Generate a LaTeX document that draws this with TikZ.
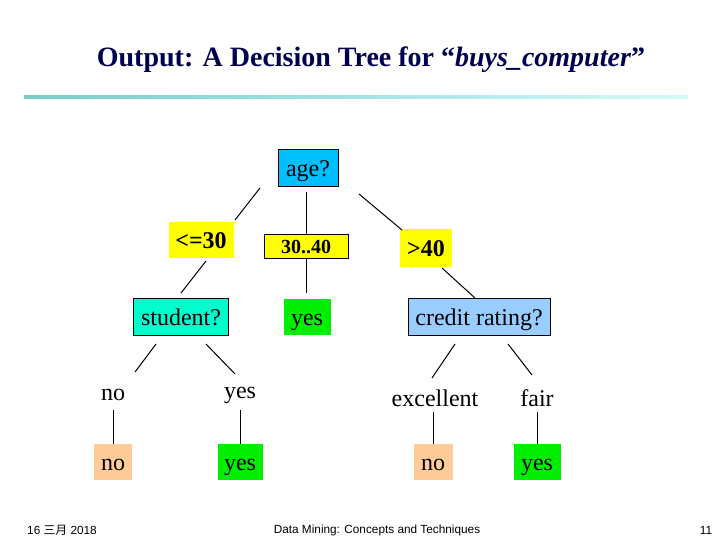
\documentclass[tikz,border=0pt]{standalone}
\usepackage{fontspec}
\setmainfont{Liberation Serif}
\setsansfont{Liberation Sans}
\newfontfamily\cjk{Noto Sans CJK SC}
\definecolor{agec}{RGB}{0,191,255}
\definecolor{yel}{RGB}{255,255,0}
\definecolor{stud}{RGB}{0,255,204}
\definecolor{grn}{RGB}{0,238,0}
\definecolor{cred}{RGB}{153,204,255}
\definecolor{org}{RGB}{255,204,153}
\definecolor{lineA}{RGB}{120,205,200}
\definecolor{lineB}{RGB}{210,250,250}
\definecolor{navy}{RGB}{0,0,80}
\begin{document}
\begin{tikzpicture}[x=1pt,y=-1pt,
  txt/.style={text height=18pt,text depth=1pt},
  box/.style={txt,draw=black,line width=0.6pt,inner sep=0pt,minimum height=37pt,font=\fontsize{24}{26}\selectfont},
  plain/.style={txt,inner sep=0pt,minimum height=36pt,font=\fontsize{24}{26}\selectfont},
  lbl/.style={inner sep=0pt,font=\fontsize{24}{26}\selectfont},
  edge/.style={line width=1pt}]
\useasboundingbox (0,0) rectangle (720,540);
\node[font=\bfseries\fontsize{28}{30}\selectfont,text=navy] (title) at (371,60) {Output: A Decision Tree for “\textit{buys\_computer}”};
\shade[left color=lineA,right color=lineB] (24,95.5) rectangle (688,99);
\node[box,fill=agec,minimum width=60pt] (age) at (308,168) {age?};
\node[plain,fill=yel,minimum width=65pt,minimum height=35pt,font=\bfseries\fontsize{24}{26}\selectfont] (le) at (201,240) {<=30};
\node[box,fill=yel,minimum width=84pt,minimum height=24pt,text height=15pt,text depth=0pt,font=\bfseries\fontsize{20}{22}\selectfont] (mid) at (306,246) {30..40};
\node[plain,fill=yel,minimum width=52pt,minimum height=37pt,font=\bfseries\fontsize{24}{26}\selectfont] (gt) at (426,248) {>40};
\node[box,fill=stud,minimum width=95pt] (st) at (181,317) {student?};
\node[plain,fill=grn,minimum width=47pt] (y1) at (307,317) {yes};
\node[box,fill=cred,minimum width=142pt] (cr) at (479,317) {credit rating?};
\node[lbl] (n1) at (113,395) {no};
\node[lbl] (y2) at (240,395) {yes};
\node[lbl] (ex) at (435,398) {excellent};
\node[lbl] (fa) at (537,398) {fair};
\node[plain,fill=org,minimum width=38pt] (ln1) at (113,462) {no};
\node[plain,fill=grn,minimum width=45pt] (ly1) at (240,462) {yes};
\node[plain,fill=org,minimum width=39pt] (ln2) at (433,462) {no};
\node[plain,fill=grn,minimum width=47pt] (ly2) at (537,462) {yes};
\coordinate (a1) at (260,188); \coordinate (a2) at (235,220);
\coordinate (b1) at (306,192); \coordinate (b2) at (306,234);
\coordinate (c1) at (359,194); \coordinate (c2) at (402,230);
\draw[edge] (a1)--(a2); \draw[edge] (b1)--(b2); \draw[edge] (c1)--(c2);
\coordinate (d1) at (206,261); \coordinate (d2) at (181,293);
\coordinate (e1) at (306,258); \coordinate (e2) at (306,293);
\coordinate (f1) at (442,268); \coordinate (f2) at (475,298);
\draw[edge] (d1)--(d2); \draw[edge] (e1)--(e2); \draw[edge] (f1)--(f2);
\coordinate (g1) at (156,344); \coordinate (g2) at (135,372);
\coordinate (h1) at (206,344); \coordinate (h2) at (235,374);
\coordinate (i1) at (455,344); \coordinate (i2) at (432,378);
\coordinate (j1) at (508,344); \coordinate (j2) at (532,375);
\draw[edge] (g1)--(g2); \draw[edge] (h1)--(h2); \draw[edge] (i1)--(i2); \draw[edge] (j1)--(j2);
\draw[line width=0.6pt] (113,410)--(ln1.north);
\draw[line width=0.6pt] (240,410)--(ly1.north);
\draw[line width=0.6pt] (433,412)--(ln2.north);
\draw[line width=0.6pt] (537,412)--(ly2.north);
\node[font=\sffamily\fontsize{11.8}{13}\selectfont] (date) at (62,530) {16 {\cjk 三月} 2018};
\node[font=\sffamily\fontsize{11.8}{13}\selectfont] (foot) at (377,530) {Data Mining: Concepts and Techniques};
\node[font=\sffamily\fontsize{11.8}{13}\selectfont] (pg) at (706,530) {11};
\end{tikzpicture}
\end{document}
